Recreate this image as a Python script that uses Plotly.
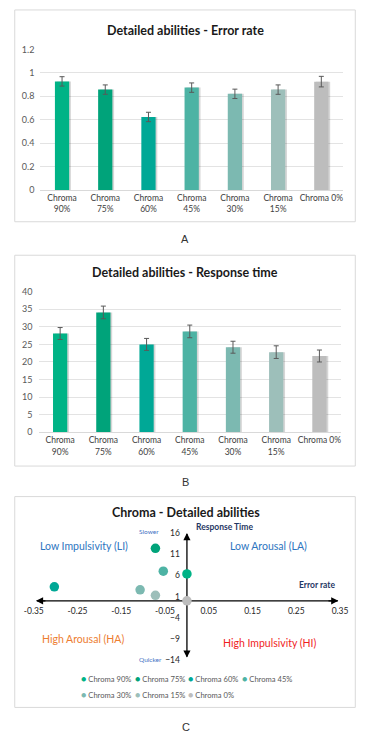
import plotly.graph_objects as go

W, H = 369, 740

categories = ["Chroma 90%", "Chroma 75%", "Chroma 60%", "Chroma 45%",
              "Chroma 30%", "Chroma 15%", "Chroma 0%"]
cat_ticktext = ["Chroma<br>90%", "Chroma<br>75%", "Chroma<br>60%", "Chroma<br>45%",
                "Chroma<br>30%", "Chroma<br>15%", "Chroma 0%"]
colors = ["#00B386", "#00A37A", "#00A896", "#4DB3A4", "#7CB9B1", "#9DBFBA", "#BDBDBD"]

error_rate = [0.927, 0.857, 0.624, 0.874, 0.821, 0.857, 0.925]
error_rate_err = [0.04, 0.04, 0.04, 0.04, 0.04, 0.04, 0.045]

response_time = [28.1, 34.1, 25.0, 28.7, 24.2, 22.8, 21.7]
response_time_err = [1.7, 1.8, 1.7, 1.8, 1.7, 1.8, 1.7]

# Panel C: differences vs Chroma 0%
diff_error = [0.0, -0.072, -0.303, -0.054, -0.107, -0.072, 0.0]
diff_rt = [6.35, 12.4, 3.3, 7.0, 2.6, 1.3, 0.0]

a_yticks = [0, 0.2, 0.4, 0.6, 0.8, 1, 1.2]
a_yticktext = ["0", "0.2", "0.4", "0.6", "0.8", "1", "1.2"]
b_yticks = [0, 5, 10, 15, 20, 25, 30, 35, 40]
c_xticks = [-0.35, -0.25, -0.15, -0.05, 0.05, 0.15, 0.25, 0.35]
c_xticktext = ["-0.35", "-0.25", "-0.15", "-0.05", "0.05", "0.15", "0.25", "0.35"]
c_yticks = [16, 11, 6, 1, -4, -9, -14]

FONT = "Lato"


def px(x):
    return x / W


def py(y):
    return 1 - y / H


fig = go.Figure()

# ---- Panel A: bars (shadow + bar)
fig.add_trace(go.Bar(x=categories, y=error_rate, marker=dict(color="rgba(0,0,0,0.16)", line_width=0),
                     width=0.33, offset=-0.125, xaxis="x", yaxis="y", showlegend=False, hoverinfo="skip"))
fig.add_trace(go.Bar(x=categories, y=error_rate, marker=dict(color=colors, line_width=0),
                     width=0.33, offset=-0.165, xaxis="x", yaxis="y", showlegend=False,
                     error_y=dict(type="data", array=error_rate_err, color="#595959", thickness=1, width=2.5)))

# ---- Panel B
fig.add_trace(go.Bar(x=categories, y=response_time, marker=dict(color="rgba(0,0,0,0.16)", line_width=0),
                     width=0.33, offset=-0.125, xaxis="x2", yaxis="y2", showlegend=False, hoverinfo="skip"))
fig.add_trace(go.Bar(x=categories, y=response_time, marker=dict(color=colors, line_width=0),
                     width=0.33, offset=-0.165, xaxis="x2", yaxis="y2", showlegend=False,
                     error_y=dict(type="data", array=response_time_err, color="#595959", thickness=1, width=2.5)))

# ---- Panel C: scatter
for i, cat in enumerate(categories):
    fig.add_trace(go.Scatter(x=[diff_error[i]], y=[diff_rt[i]], mode="markers", name=cat,
                             marker=dict(color=colors[i], size=9.5),
                             xaxis="x3", yaxis="y3", showlegend=False))

tickfont = dict(family=FONT, size=9, color="#595959")
catfont = dict(family=FONT, size=8.5, color="#404040")

fig.update_layout(
    width=W, height=H,
    margin=dict(l=0, r=0, t=0, b=0),
    paper_bgcolor="white", plot_bgcolor="white",
    barmode="overlay",
    showlegend=False,
    font=dict(family=FONT),
    xaxis=dict(domain=[px(32), px(350)], anchor="y", tickvals=categories, ticktext=cat_ticktext,
               tickfont=catfont, showgrid=False, showline=True, linecolor="#D9D9D9", linewidth=1,
               ticks="", fixedrange=True),
    yaxis=dict(domain=[py(187), py(44)], anchor="x", range=[0, 1.2], tickvals=a_yticks, ticktext=a_yticktext,
               tickfont=tickfont, showgrid=True, gridcolor="#E3E3E3", gridwidth=1, zeroline=False,
               showline=False, ticks="", ticklabelstandoff=5),
    xaxis2=dict(domain=[px(30), px(348)], anchor="y2", tickvals=categories, ticktext=cat_ticktext,
                tickfont=catfont, showgrid=False, showline=True, linecolor="#D9D9D9", linewidth=1,
                ticks=""),
    yaxis2=dict(domain=[py(432.7), py(290)], anchor="x2", range=[0, 40], tickvals=b_yticks,
                tickfont=tickfont, showgrid=True, gridcolor="#E3E3E3", gridwidth=1, zeroline=False,
                showline=False, ticks="", ticklabelstandoff=5),
    xaxis3=dict(domain=[px(25), px(347)], anchor="free", position=py(603.5), range=[-0.35, 0.35],
                tickvals=c_xticks, ticktext=c_xticktext, tickfont=dict(family=FONT, size=8.5, color="#262626"),
                showgrid=False, zeroline=False, showline=False, ticks="", ticklabelstandoff=4),
    yaxis3=dict(domain=[py(664), py(535)], anchor="free", position=px(186), range=[-14, 16],
                tickvals=c_yticks, tickfont=dict(family=FONT, size=8.5, color="#262626"),
                showgrid=False, zeroline=False, showline=False, ticks="", ticklabelstandoff=7),
)

shapes = []
# panel borders
for top, bottom in [(4, 219), (253, 467), (498, 712)]:
    shapes.append(dict(type="rect", xref="paper", yref="paper", x0=px(5), x1=px(363),
                       y0=py(bottom), y1=py(top), line=dict(color="#D9D9D9", width=1), layer="below"))
# axes in C
shapes.append(dict(type="line", xref="x3", yref="y3", x0=-0.343, x1=0.345, y0=0, y1=0,
                   line=dict(color="black", width=1.3), layer="below"))
shapes.append(dict(type="line", xref="x3", yref="y3", x0=0, x1=0, y0=-13.2, y1=15.8,
                   line=dict(color="black", width=1.3), layer="below"))
fig.update_layout(shapes=shapes)

ann = []
def text(x, y, s, size, color="#262626", bold=False, xanchor="center", family=FONT):
    ann.append(dict(x=px(x), y=py(y), xref="paper", yref="paper", text=f"<b>{s}</b>" if bold else s,
                    showarrow=False, xanchor=xanchor, yanchor="middle",
                    font=dict(family=family, size=size, color=color)))

text(184, 25, "Detailed abilities - Error rate", 12.5, "#1A1A1A", True)
text(184, 271, "Detailed abilities - Response time", 12.5, "#1A1A1A", True)
text(185, 514, "Chroma - Detailed abilities", 12.5, "#1A1A1A", True)
text(184, 237, "A", 11, "#333333", family="Liberation Sans")
text(185, 483, "B", 11, "#333333", family="Liberation Sans")
text(185, 732, "C", 11, "#333333", family="Liberation Sans")

text(78, 548, "Low Impulsivity (LI)", 10.5, "#2E75C0")
text(272, 548, "Low Arousal (LA)", 10.5, "#2E75C0")
text(77, 643, "High Arousal (HA)", 10.5, "#ED7D31")
text(273, 647, "High Impulsivity (HI)", 10.5, "#F01E1E")
text(146, 533, "Slower", 6.5, "#4472C4")
text(148, 663, "Quicker", 6.5, "#4472C4")
text(226, 529, "Response Time", 8.5, "#1F3864", True)
text(323, 588, "Error rate", 8.5, "#1F3864", True)

# arrowheads on C axes
for (x, y, ax_, ay_) in [(0.346, 0, 0.32, 0), (-0.345, 0, -0.32, 0), (0, 16, 0, 14.5), (0, -13.4, 0, -12)]:
    ann.append(dict(x=x, y=y, ax=ax_, ay=ay_, xref="x3", yref="y3", axref="x3", ayref="y3",
                    text="", showarrow=True, arrowhead=2, arrowsize=1.1, arrowwidth=1.3,
                    arrowcolor="black", standoff=0, startstandoff=0))

# legend for C (manual, two rows)
leg_x = [76, 132, 188, 245]
for i, cat in enumerate(categories):
    row, col = divmod(i, 4)
    ann.append(dict(x=px(leg_x[col] - 3), y=py(683 + row * 16), xref="paper", yref="paper",
                    text=f"<span style='color:{colors[i]};font-size:9px'>●</span>\u202f{cat}", showarrow=False,
                    xanchor="left", yanchor="middle",
                    font=dict(family=FONT, size=7.6, color="#595959")))

fig.update_layout(annotations=ann)

fig.write_html("out.html", config={"displayModeBar": False},
               post_script="document.body.style.margin='0';")
